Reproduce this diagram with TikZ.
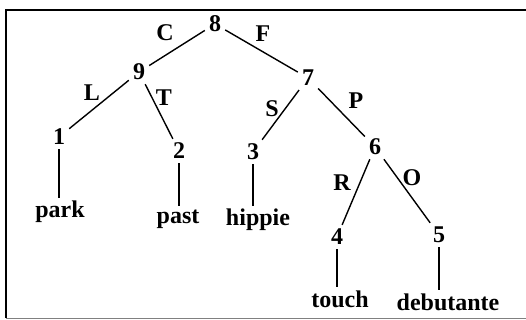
\documentclass[tikz,border=0pt]{standalone}
\usepackage{fontspec}
\setmainfont{Liberation Serif}
\usepackage{amsmath}

\begin{document}
\begin{tikzpicture}[x=1pt,y=-1pt,
  num/.style={font=\fontsize{24}{24}\selectfont\bfseries,inner sep=4pt},
  word/.style={font=\fontsize{24}{24}\selectfont\bfseries,inner sep=3pt},
  lbl/.style={font=\fontsize{24}{24}\selectfont\bfseries,inner sep=0pt},
  edge/.style={line width=1.4pt}]
\useasboundingbox (0,0) rectangle (526,320);
\draw[line width=2.5pt] (6,318) -- (6,10) -- (527,10);
\draw[line width=1pt, gray] (6,318.5) -- (527,318.5);
\node[num] (n8) at (215,24) {8};
\node[num] (n9) at (139,72) {9};
\node[num] (n7) at (308,78) {7};
\node[num] (n1) at (59,137) {1};
\node[num] (n2) at (179,151) {2};
\node[num] (n3) at (253,152) {3};
\node[num] (n6) at (375,147) {6};
\node[num] (n4) at (337,237) {4};
\node[num] (n5) at (439,235) {5};
\node[word] (park) at (60,212) {park};
\node[word] (past) at (178,219) {past};
\node[word] (hippie) at (258,220) {hippie};
\node[word] (touch) at (340,299) {touch};
\node[word] (debutante) at (448,302) {debutante};
\draw[edge] (n8) -- (n9) node[lbl] at (165,33) {C};
\draw[edge] (n8) -- (n7) node[lbl] at (263,34) {F};
\draw[edge] (n9) -- (n1) node[lbl] at (92,93) {L};
\draw[edge] (n9) -- (n2) node[lbl] at (164,98) {T};
\draw[edge] (n7) -- (n3) node[lbl] at (272,109) {S};
\draw[edge] (n7) -- (n6) node[lbl] at (356,101) {P};
\draw[edge] (n6) -- (n4) node[lbl] at (342,183) {R};
\draw[edge] (n6) -- (n5) node[lbl] at (412,178) {O};
\draw[edge] (n1) -- (n1 |- park.north);
\draw[edge] (n2) -- (n2 |- past.north);
\draw[edge] (n3) -- (n3 |- hippie.north);
\draw[edge] (n4) -- (n4 |- touch.north);
\draw[edge] (n5) -- (n5 |- debutante.north);
\end{tikzpicture}
\end{document}
